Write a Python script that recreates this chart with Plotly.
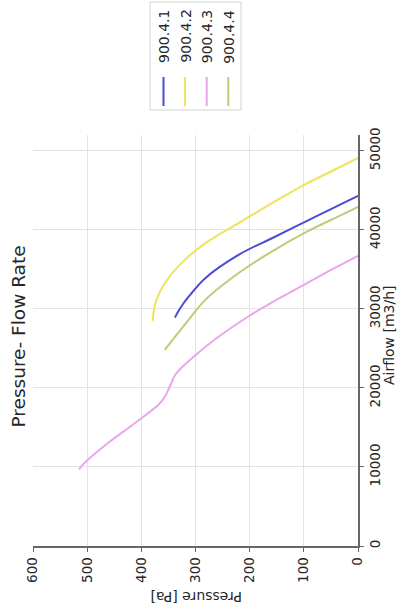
import plotly.graph_objects as go

# ---------------- data ----------------
series_names = ["900.4.1", "900.4.2", "900.4.3", "900.4.4"]
series_colors = ["#4b4bd6", "#efe35c", "#eaa6ea", "#bacd79"]

# pressure [Pa] and airflow [m3/h]
pressure_1 = [338, 330, 312, 281, 219, 157, 95, 33, 0]
airflow_1 = [28900, 29900, 31600, 33950, 36900, 39000, 41100, 43200, 44300]

pressure_2 = [379, 374, 356, 325, 281, 219, 157, 95, 33, 0]
airflow_2 = [28450, 30750, 33300, 35850, 38350, 40900, 43450, 45850, 47950, 49100]

pressure_3 = [515, 505, 461, 411, 368, 356, 346, 337, 306, 260, 201, 157, 126, 64, 0]
airflow_3 = [9700, 10500, 13060, 15600, 17900, 18950, 20400, 21700, 23800, 26350, 29100, 30900, 32050, 34400, 36700]

pressure_4 = [357, 312, 281, 219, 157, 95, 33, 0]
airflow_4 = [24800, 28680, 31200, 34600, 37350, 39750, 41800, 42900]

pressure_ticks = [0, 100, 200, 300, 400, 500, 600]
pressure_ticktext = ["0", "100", "200", "300", "400", "500", "600"]
airflow_ticks = [0, 10000, 20000, 30000, 40000, 50000]
airflow_ticktext = ["0", "10000", "20000", "30000", "40000", "50000"]

title_text = "Pressure- Flow Rate"
pressure_label = "Pressure [Pa]"
airflow_label = "Airflow [m3/h]"

# ---------------- layout helpers ----------------
W, H = 403, 615
L, R, T, B = 33, 45, 135, 69
PW, PH = W - L - R, H - T - B


def fx(px):
    return (px - L) / PW


def fy(py):
    return (H - B - py) / PH


FONT = "DejaVu Sans"
TXT = "#262626"
AXC = "#666666"
GRID = "#e3e3e3"

fig = go.Figure()
all_p = [pressure_1, pressure_2, pressure_3, pressure_4]
all_q = [airflow_1, airflow_2, airflow_3, airflow_4]
for name, p, q, c in zip(series_names, all_p, all_q, series_colors):
    fig.add_trace(go.Scatter(
        x=p, y=q, mode="lines", name=name,
        line=dict(color=c, width=2, shape="spline", smoothing=1.0),
        showlegend=False, hoverinfo="x+y+name"))

fig.update_layout(
    width=W, height=H,
    margin=dict(l=L, r=R, t=T, b=B, pad=0),
    paper_bgcolor="white", plot_bgcolor="white",
    font=dict(family=FONT, size=14, color=TXT),
    showlegend=False,
)

fig.update_xaxes(
    range=[600, 0], tickmode="array", tickvals=pressure_ticks, ticktext=pressure_ticktext,
    tickangle=-90, tickfont=dict(size=13.5, color=TXT),
    showgrid=True, gridcolor=GRID, gridwidth=1, zeroline=False,
    showline=True, linecolor=AXC, linewidth=1.5,
    ticks="outside", ticklen=4, tickwidth=1.2, tickcolor=AXC, automargin=False,
)
fig.update_yaxes(
    range=[0, 52000], side="right", tickmode="array", tickvals=airflow_ticks, ticktext=airflow_ticktext,
    tickangle=-90, tickfont=dict(size=13.5, color=TXT),
    showgrid=True, gridcolor=GRID, gridwidth=1, zeroline=False,
    showline=True, linecolor=AXC, linewidth=1.5,
    ticks="outside", ticklen=4, tickwidth=1.2, tickcolor=AXC, automargin=False,
)

annotations = [
    dict(text=title_text, x=fx(17.5), y=fy(337), xref="paper", yref="paper",
         textangle=-90, showarrow=False, xanchor="center", yanchor="middle",
         font=dict(size=18.5, color=TXT, family=FONT)),
    dict(text=airflow_label, x=fx(389), y=fy(335), xref="paper", yref="paper",
         textangle=-90, showarrow=False, xanchor="center", yanchor="middle",
         font=dict(size=14, color=TXT, family=FONT)),
    dict(text=pressure_label, x=fx(196), y=fy(597), xref="paper", yref="paper",
         textangle=180, showarrow=False, xanchor="center", yanchor="middle",
         font=dict(size=14, color=TXT, family=FONT)),
]

shapes = [
    dict(type="rect", xref="paper", yref="paper",
         x0=fx(150), x1=fx(241), y0=fy(110), y1=fy(2),
         line=dict(color="#d4d4d4", width=1), fillcolor="white", layer="above"),
]

for i, (name, c) in enumerate(zip(series_names, series_colors)):
    cx = 163.5 + 21.6 * i
    shapes.append(dict(type="line", xref="paper", yref="paper",
                       x0=fx(cx), x1=fx(cx), y0=fy(106), y1=fy(77),
                       line=dict(color=c, width=2), layer="above"))
    annotations.append(dict(text=name, x=fx(cx), y=fy(36.5), xref="paper", yref="paper",
                            textangle=-90, showarrow=False, xanchor="center", yanchor="middle",
                            font=dict(size=14, color=TXT, family=FONT)))

fig.update_layout(annotations=annotations, shapes=shapes)

fig.write_html("out.html", config={"displayModeBar": False},
               post_script="document.body.style.margin='0px';")
